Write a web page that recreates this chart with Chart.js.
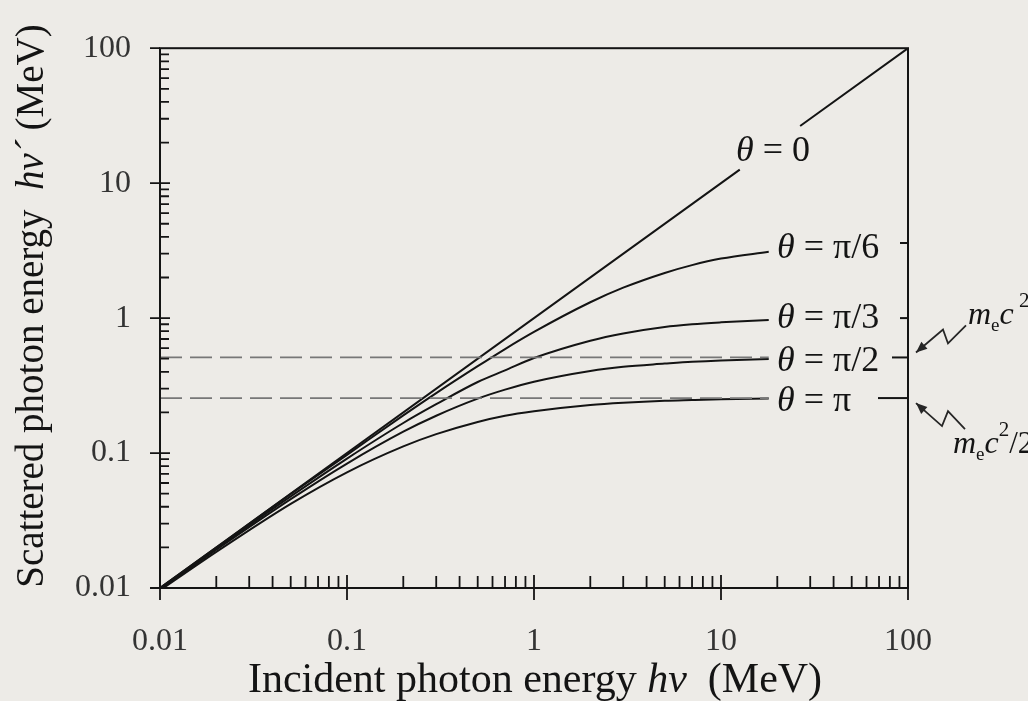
<!DOCTYPE html>
<html>
<head>
<meta charset="utf-8">
<script src="https://cdn.jsdelivr.net/npm/chart.js@4.4.1/dist/chart.umd.min.js"></script>
<style>
html,body{margin:0;padding:0;background:#edebe7;}
canvas{display:block;}
</style>
</head>
<body>
<canvas id="c" width="1028" height="701"></canvas>
<script>
/* DATA (MeV) */
const energy   =[0.01,0.02,0.05,0.1,0.2,0.3,0.5,0.7,1,2,3,5,7,10,18];
const thetaPi6 =[0.01,0.0199,0.0497,0.097,0.19,0.278,0.44,0.59,0.79,1.31,1.68,2.16,2.47,2.76,3.1];
const thetaPi3 =[0.0099,0.0196,0.0477,0.091,0.167,0.23,0.336,0.41,0.506,0.68,0.77,0.86,0.9,0.93,0.97];
const thetaPi2 =[0.0098,0.0192,0.0455,0.0836,0.144,0.189,0.253,0.295,0.338,0.406,0.436,0.46,0.475,0.486,0.497];
const thetaPi  =[0.0096,0.0185,0.042,0.072,0.112,0.138,0.17,0.189,0.204,0.227,0.236,0.244,0.247,0.25,0.254];
const theta0X  =[0.01,12.6,20,26.5,100];
const theta0Y  =[0.01,12.6,null,26.5,100];
const refX     =[0.01,18];
const mecY     =[0.511,0.511];
const halfMecY =[0.2555,0.2555];
const stubY    =[3.6,1.0,0.511,0.2555];
const tickVals =[0.01,0.1,1,10,100];
const tickLabels=['0.01','0.1','1','10','100'];

const BG='#edebe7',INK='#141414';
const SERIF='"Liberation Serif","Times New Roman",serif';

function pts(xs,ys){return xs.map((x,i)=>({x,y:ys[i]}));}
function line(xs,ys,extra){
  return Object.assign({data:pts(xs,ys),borderColor:INK,borderWidth:2,pointRadius:0,fill:false,
    cubicInterpolationMode:'monotone',spanGaps:false},extra||{});
}

/* draw mixed-font text runs: [text,font,dy] */
function runs(ctx,parts,x,y,align){
  let w=0;
  parts.forEach(p=>{ctx.font=p[1];w+=ctx.measureText(p[0]).width;});
  let cx=align==='center'?x-w/2:x;
  parts.forEach(p=>{ctx.font=p[1];ctx.fillText(p[0],cx,y+(p[2]||0));cx+=ctx.measureText(p[0]).width;});
}

function zig(ctx,p){
  ctx.beginPath();ctx.moveTo(p[0][0],p[0][1]);
  for(let i=1;i<p.length;i++)ctx.lineTo(p[i][0],p[i][1]);
  ctx.stroke();
  const n=p.length,tip=p[n-1],prev=p[n-2];
  const a=Math.atan2(tip[1]-prev[1],tip[0]-prev[0]);
  ctx.beginPath();ctx.moveTo(tip[0],tip[1]);
  ctx.lineTo(tip[0]-12*Math.cos(a-0.4),tip[1]-12*Math.sin(a-0.4));
  ctx.lineTo(tip[0]-12*Math.cos(a+0.4),tip[1]-12*Math.sin(a+0.4));
  ctx.closePath();ctx.fill();
}

const deco={
  id:'deco',
  beforeDraw(c){const {ctx,width,height}=c;ctx.save();ctx.fillStyle=BG;ctx.fillRect(0,0,width,height);ctx.restore();},
  afterDatasetsDraw(c){
    const {ctx,chartArea:a,scales:{x,y}}=c;
    ctx.save();
    ctx.strokeStyle=INK;ctx.fillStyle=INK;ctx.lineWidth=2;
    ctx.strokeRect(a.left,a.top,a.right-a.left,a.bottom-a.top);
    ctx.lineWidth=1.8;
    for(let d=0.01;d<100;d*=10){
      for(let m=1;m<=9;m++){
        const v=m*d;
        const py=y.getPixelForValue(v),px=x.getPixelForValue(v);
        ctx.beginPath();
        if(m===1){
          ctx.moveTo(a.left-10,py);ctx.lineTo(a.left+10,py);
          ctx.moveTo(px,a.bottom+12);ctx.lineTo(px,a.bottom-13);
        }else{
          ctx.moveTo(a.left,py);ctx.lineTo(a.left+9,py);
          ctx.moveTo(px,a.bottom);ctx.lineTo(px,a.bottom-12);
        }
        ctx.stroke();
      }
    }
    // top decade mark
    ctx.beginPath();ctx.moveTo(a.left-10,a.top);ctx.lineTo(a.left,a.top);
    ctx.moveTo(a.right,a.bottom+12);ctx.lineTo(a.right,a.bottom);ctx.stroke();
    // right-hand stubs
    const stubLen=[8,8,16,30];
    ctx.lineWidth=2;
    stubY.forEach((v,i)=>{const py=y.getPixelForValue(v);
      ctx.beginPath();ctx.moveTo(a.right-stubLen[i],py);ctx.lineTo(a.right,py);ctx.stroke();});
    ctx.restore();
  },
  afterDraw(c){
    const {ctx,chartArea:a,scales:{y}}=c;
    ctx.save();
    ctx.fillStyle=INK;ctx.strokeStyle='#262626';ctx.textBaseline='alphabetic';
    const it='italic 36px '+SERIF,up='36px '+SERIF;
    // curve labels
    const lx=a.left+617;
    runs(ctx,[['θ',it],[' = 0',up]],a.left+576,a.top+113,'left');
    runs(ctx,[['θ',it],[' = π/6',up]],lx,a.top+210,'left');
    runs(ctx,[['θ',it],[' = π/3',up]],lx,a.top+280,'left');
    runs(ctx,[['θ',it],[' = π/2',up]],lx,a.top+323,'left');
    runs(ctx,[['θ',it],[' = π',up]],lx,a.top+363,'left');
    // axis titles
    const tf='42px '+SERIF,ti='italic 42px '+SERIF;
    runs(ctx,[['Incident photon energy ',tf],['hv',ti],['  (MeV)',tf]],535,692,'center');
    const vf='39px '+SERIF,vi='italic 39px '+SERIF;
    ctx.save();ctx.translate(43,306);ctx.rotate(-Math.PI/2);
    runs(ctx,[['Scattered photon energy  ',vf],['hv´',vi],[' (MeV)',vf]],0,0,'center');
    ctx.restore();
    // mec2 annotations
    const mi='italic 32px '+SERIF,se='19px '+SERIF,sp='21px '+SERIF,nf='31px '+SERIF;
    runs(ctx,[['m',mi],['e',se,7],['c',mi],[' 2',sp,-17]],a.right+60,324,'left');
    runs(ctx,[['m',mi],['e',se,7],['c',mi],['2',sp,-17],['/2',nf]],a.right+45,453,'left');
    ctx.lineWidth=1.8;ctx.fillStyle='#262626';
    const y1=y.getPixelForValue(0.511),y2=y.getPixelForValue(0.2555);
    zig(ctx,[[a.right+58,y1-32],[a.right+40,y1-14],[a.right+35,y1-28],[a.right+8,y1-5]]);
    zig(ctx,[[a.right+57,y2+31],[a.right+40,y2+13],[a.right+34,y2+28],[a.right+8,y2+5]]);
    ctx.restore();
  }
};

const tickFont={family:SERIF,size:32};
new Chart(document.getElementById('c'),{
  type:'line',
  data:{datasets:[
    line(refX,mecY,{borderColor:'#777',borderWidth:1.7,borderDash:[22,8],cubicInterpolationMode:'default'}),
    line(refX,halfMecY,{borderColor:'#777',borderWidth:1.7,borderDash:[22,8],cubicInterpolationMode:'default'}),
    line(theta0X,theta0Y,{cubicInterpolationMode:'default'}),
    line(energy,thetaPi6),
    line(energy,thetaPi3),
    line(energy,thetaPi2),
    line(energy,thetaPi)
  ]},
  options:{
    responsive:false,animation:false,
    layout:{padding:{top:47,right:120,left:0,bottom:0}},
    plugins:{legend:{display:false},tooltip:{enabled:false}},
    scales:{
      x:{type:'logarithmic',min:0.01,max:100,position:'bottom',
        grid:{display:false,drawTicks:false},border:{display:false},
        afterBuildTicks:s=>{s.ticks=tickVals.map(v=>({value:v}));},
        afterFit:s=>{s.height=113;},
        ticks:{autoSkip:false,maxRotation:0,padding:34,color:'#333',font:tickFont,callback:(v,i)=>tickLabels[i]}},
      y:{type:'logarithmic',min:0.01,max:100,position:'left',
        grid:{display:false,drawTicks:false},border:{display:false},
        afterBuildTicks:s=>{s.ticks=tickVals.map(v=>({value:v}));},
        afterFit:s=>{s.width=160;},
        ticks:{autoSkip:false,padding:29,color:'#333',font:tickFont,callback:(v,i)=>tickLabels[i]}}
    }
  },
  plugins:[deco]
});
</script>
</body>
</html>
